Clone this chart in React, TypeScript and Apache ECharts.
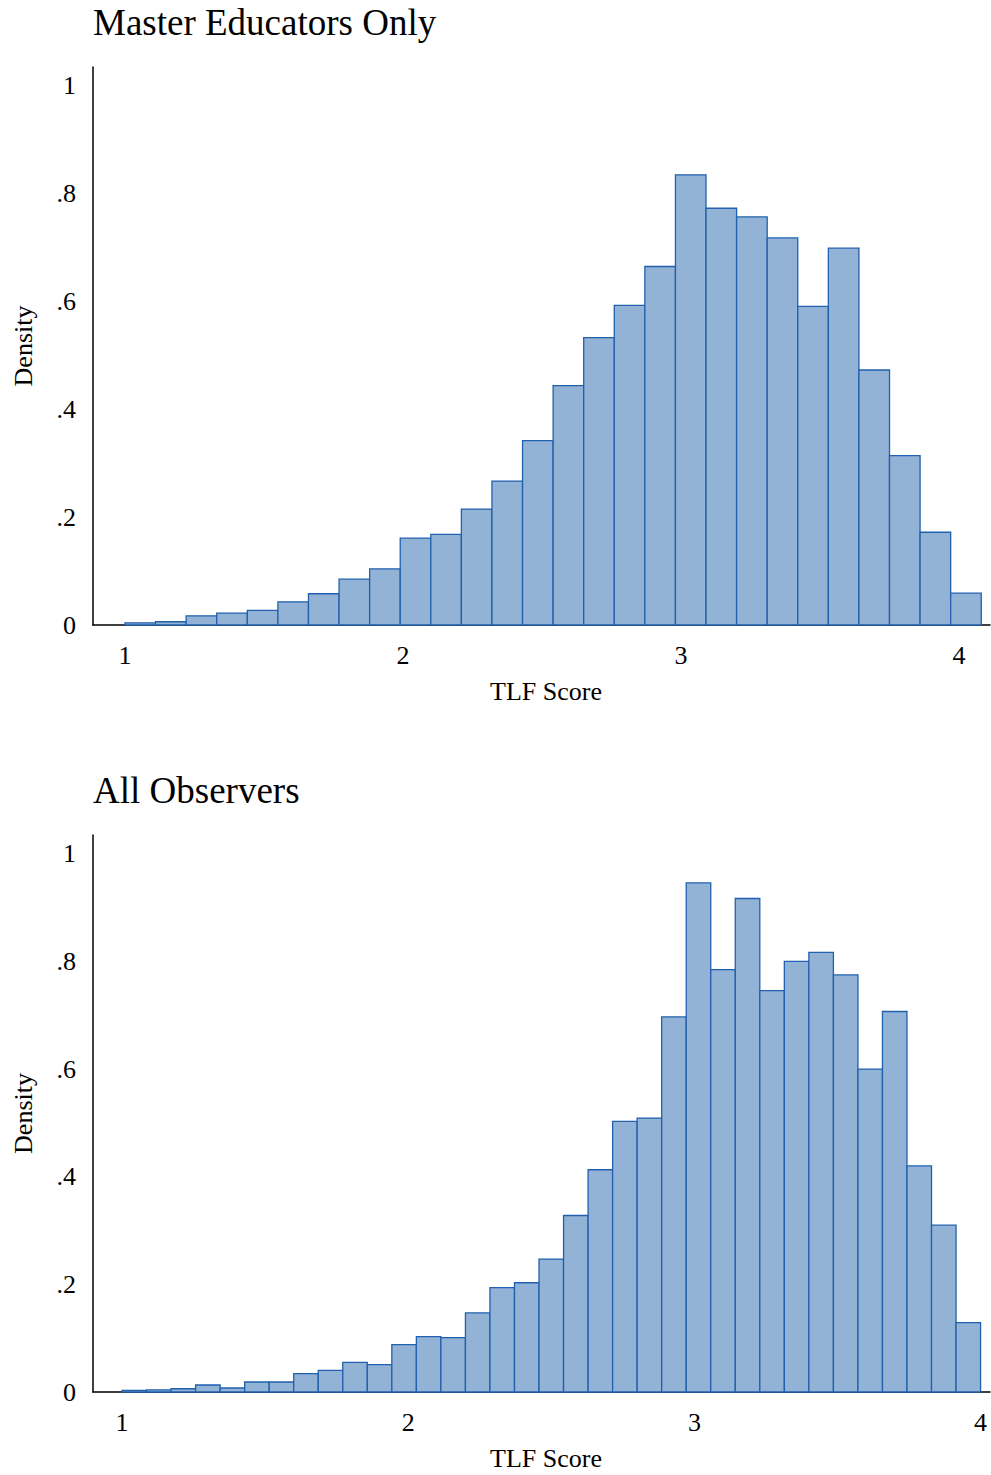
import React, { useEffect, useRef } from "react";
import * as echarts from "echarts";

// ---------- Data ----------
const xTickValues = [1, 2, 3, 4];
const yTickValues = [0, 0.2, 0.4, 0.6, 0.8, 1];
const yTickLabels = ["0", ".2", ".4", ".6", ".8", "1"];

const masterTitle = "Master Educators Only";
const masterBinStart = 1;
const masterBinWidth = 0.11;
const masterDensity = [
  0.004, 0.006, 0.017, 0.022, 0.027, 0.043, 0.058, 0.085, 0.104, 0.161,
  0.168, 0.215, 0.267, 0.342, 0.444, 0.533, 0.593, 0.665, 0.835, 0.773,
  0.757, 0.718, 0.591, 0.699, 0.473, 0.314, 0.172, 0.059,
];

const allTitle = "All Observers";
const allBinStart = 1;
const allBinWidth = 3 / 35;
const allDensity = [
  0.003, 0.004, 0.006, 0.013, 0.0074, 0.0186, 0.0186, 0.034, 0.04, 0.055,
  0.051, 0.088, 0.103, 0.101, 0.147, 0.194, 0.203, 0.247, 0.328, 0.413,
  0.503, 0.509, 0.697, 0.946, 0.785, 0.917, 0.746, 0.8, 0.817, 0.775,
  0.6, 0.707, 0.42, 0.31, 0.129,
];

const xAxisName = "TLF Score";
const yAxisName = "Density";

// ---------- Helpers ----------
const FONT = "Liberation Serif";
const FILL = "#92b3d6";
const STROKE = "#2160ae";

function bins(start: number, width: number, dens: number[]) {
  return dens.map((d, i) => [start + i * width, start + (i + 1) * width, d]);
}

function renderBar(params: any, api: any) {
  const x0 = api.value(0);
  const x1 = api.value(1);
  const y = api.value(2);
  const p0 = api.coord([x0, y]);
  const p1 = api.coord([x1, 0]);
  return {
    type: "rect",
    shape: { x: p0[0], y: p0[1], width: p1[0] - p0[0], height: p1[1] - p0[1] },
    style: { fill: FILL, stroke: STROKE, lineWidth: 1.3 },
  };
}

function xAxis(gridIndex: number, min: number, max: number) {
  return {
    type: "value",
    gridIndex,
    min,
    max,
    name: xAxisName,
    nameLocation: "middle",
    nameGap: 53,
    nameTextStyle: { fontFamily: FONT, fontSize: 26, color: "#000", padding: [0, 0, 0, 9] },
    axisLine: { show: true, onZero: false, lineStyle: { color: "#000", width: 1.5 } },
    axisTick: { show: false },
    splitLine: { show: false },
    axisLabel: {
      customValues: xTickValues,
      fontFamily: FONT,
      fontSize: 26,
      color: "#000",
      margin: 17,
      formatter: (v: number) => String(v),
    },
  };
}

function yAxis(gridIndex: number) {
  return {
    type: "value",
    gridIndex,
    min: 0,
    max: 1.035,
    name: yAxisName,
    nameLocation: "middle",
    nameGap: 57,
    nameTextStyle: { fontFamily: FONT, fontSize: 26, color: "#000" },
    axisLine: { show: true, lineStyle: { color: "#000", width: 1.5 } },
    axisTick: { show: false },
    splitLine: { show: false },
    axisLabel: {
      customValues: yTickValues,
      fontFamily: FONT,
      fontSize: 26,
      color: "#000",
      margin: 17,
      formatter: (v: number) => {
        const i = yTickValues.findIndex((t) => Math.abs(t - v) < 1e-9);
        return i >= 0 ? yTickLabels[i] : "";
      },
    },
  };
}

export default function App() {
  const ref = useRef<HTMLDivElement>(null);

  useEffect(() => {
    if (!ref.current) return;
    const chart = echarts.init(ref.current, null, { renderer: "svg" });
    chart.setOption({
      animation: false,
      backgroundColor: "#fff",
      textStyle: { fontFamily: FONT },
      title: [
        {
          text: masterTitle,
          left: 93,
          top: 4,
          padding: 0,
          textStyle: { fontFamily: FONT, fontSize: 37, fontWeight: "normal", color: "#000" },
        },
        {
          text: allTitle,
          left: 93,
          top: 772,
          padding: 0,
          textStyle: { fontFamily: FONT, fontSize: 37, fontWeight: "normal", color: "#000" },
        },
      ],
      grid: [
        { left: 93, top: 67, width: 897, height: 558 },
        { left: 93, top: 835, width: 897, height: 557 },
      ],
      xAxis: [xAxis(0, 0.8849, 4.1115), xAxis(1, 0.8987, 4.0329)],
      yAxis: [yAxis(0), yAxis(1)],
      series: [
        {
          type: "custom",
          xAxisIndex: 0,
          yAxisIndex: 0,
          renderItem: renderBar,
          encode: { x: [0, 1], y: 2 },
          data: bins(masterBinStart, masterBinWidth, masterDensity),
          clip: false,
        },
        {
          type: "custom",
          xAxisIndex: 1,
          yAxisIndex: 1,
          renderItem: renderBar,
          encode: { x: [0, 1], y: 2 },
          data: bins(allBinStart, allBinWidth, allDensity),
          clip: false,
        },
      ],
    });
    return () => chart.dispose();
  }, []);

  return (
    <div
      ref={ref}
      style={{ position: "absolute", left: 0, top: 0, width: 991, height: 1475, background: "#fff" }}
    />
  );
}
